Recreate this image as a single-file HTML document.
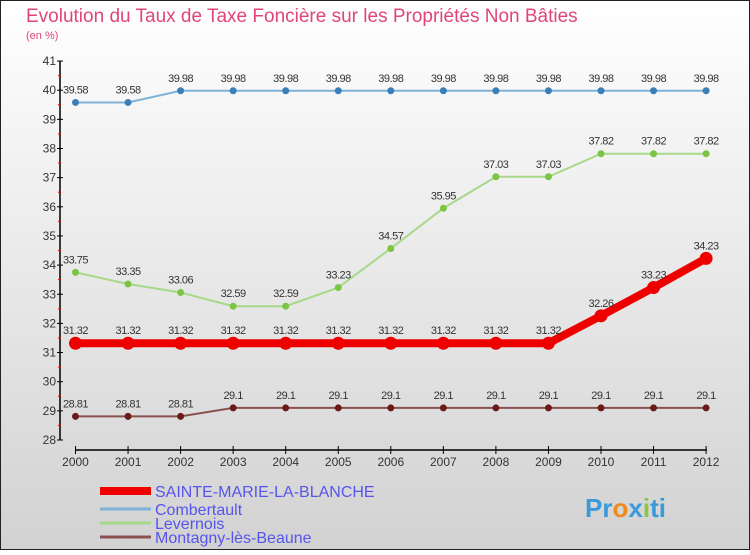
<!DOCTYPE html>
<html><head><meta charset="utf-8"><style>
body{margin:0;width:750px;height:550px;overflow:hidden;font-family:"Liberation Sans",sans-serif}
</style></head><body>
<svg width="750" height="550" xmlns="http://www.w3.org/2000/svg">
<defs><linearGradient id="bg" x1="0" y1="0" x2="0" y2="1"><stop offset="0" stop-color="#ffffff"/><stop offset="1" stop-color="#d2d2d2"/></linearGradient></defs>
<rect x="0.5" y="0.5" width="749" height="549" fill="url(#bg)" stroke="#222"/>
<text x="26" y="22" font-size="19" fill="#e0457a">Evolution du Taux de Taxe Foncière sur les Propriétés Non Bâties</text>
<text x="26" y="39" font-size="11" fill="#e0457a">(en %)</text>
<g id="axes"></g><g id="series"></g><g id="legend"></g>
<text x="585" y="517" font-size="26" font-weight="bold" fill="#3a9ad9">Pr<tspan fill="#f08a1c">o</tspan>x<tspan fill="#8cc63f">i</tspan>ti</text>
</svg>
<script>
const years=[2000,2001,2002,2003,2004,2005,2006,2007,2008,2009,2010,2011,2012];
const yTicks=[28,29,30,31,32,33,34,35,36,37,38,39,40,41];
const sainte=[31.32,31.32,31.32,31.32,31.32,31.32,31.32,31.32,31.32,31.32,32.26,33.23,34.23];
const combertault=[39.58,39.58,39.98,39.98,39.98,39.98,39.98,39.98,39.98,39.98,39.98,39.98,39.98];
const levernois=[33.75,33.35,33.06,32.59,32.59,33.23,34.57,35.95,37.03,37.03,37.82,37.82,37.82];
const montagny=[28.81,28.81,28.81,29.1,29.1,29.1,29.1,29.1,29.1,29.1,29.1,29.1,29.1];
const names=["SAINTE-MARIE-LA-BLANCHE","Combertault","Levernois","Montagny-lès-Beaune"];
const NS="http://www.w3.org/2000/svg";
const xS=i=>75.5+i*52.55;
const yS=v=>440-(v-28)*29.15;
function mk(p,t,a){const e=document.createElementNS(NS,t);for(const k in a)e.setAttribute(k,a[k]);p.appendChild(e);return e;}
const ax=document.getElementById('axes');
let yl=mk(ax,'line',{x1:60,y1:61,x2:60,y2:440,stroke:'#000','stroke-width':1.5});


let xl=mk(ax,'line',{x1:75,y1:450,x2:707,y2:450,stroke:'#000','stroke-width':1.5});


yTicks.forEach(v=>{
 mk(ax,'line',{x1:57,y1:yS(v),x2:63,y2:yS(v),stroke:'#000'});
 if(v<41) mk(ax,'line',{x1:58,y1:yS(v+0.5),x2:61,y2:yS(v+0.5),stroke:'#e00'});
 const t=mk(ax,'text',{x:56,y:yS(v)+4,'font-size':12,fill:'#333','text-anchor':'end'});
 t.textContent=v;
 
 
});
years.forEach((y,i)=>{
 mk(ax,'line',{x1:xS(i),y1:446,x2:xS(i),y2:454,stroke:'#000'});
 const t=mk(ax,'text',{x:xS(i),y:466,'font-size':12,fill:'#333','text-anchor':'middle'});
 t.textContent=y;
 
 
});
const sg=document.getElementById('series');
function draw(vals,color,lw,r,name,dotColor){
 const g=mk(sg,'g',{});
 
 
 mk(g,'polyline',{points:vals.map((v,i)=>xS(i)+','+yS(v)).join(' '),fill:'none',stroke:color,'stroke-width':lw});
 vals.forEach((v,i)=>{
  const c=mk(g,'circle',{cx:xS(i),cy:yS(v),r:r,fill:dotColor});
  
  
  const t=mk(g,'text',{x:xS(i),y:yS(v)-9,'font-size':11,fill:'#333','text-anchor':'middle','letter-spacing':'-0.5'});
  t.textContent=v;
  
  
 });
}
draw(combertault,'#7fb2d8',2,3.5,'combertault-series','#3a7fb8');
draw(levernois,'#a8d88a',2,3.5,'levernois-series','#7cc443');
draw(montagny,'#8a5050',2,3.5,'montagny-series','#6b1a1a');
draw(sainte,'#ee0000',8,6.5,'sainte-marie-series','#ee0000');
const lg=document.getElementById('legend');
const lc=['#ee0000','#7fb2d8','#a8d88a','#8a5050'],lw=[8,3,3,3],ly=[492,510,524,538];
names.forEach((n,i)=>{
 const g=mk(lg,'g',{});
 
 
 mk(g,'line',{x1:100,y1:ly[i]-1,x2:151,y2:ly[i]-1,stroke:lc[i],'stroke-width':lw[i]});
 const t=mk(g,'text',{x:155,y:ly[i]+5,'font-size':16,fill:'#5555ee'});
 t.textContent=n;
});
</script>
</body></html>
